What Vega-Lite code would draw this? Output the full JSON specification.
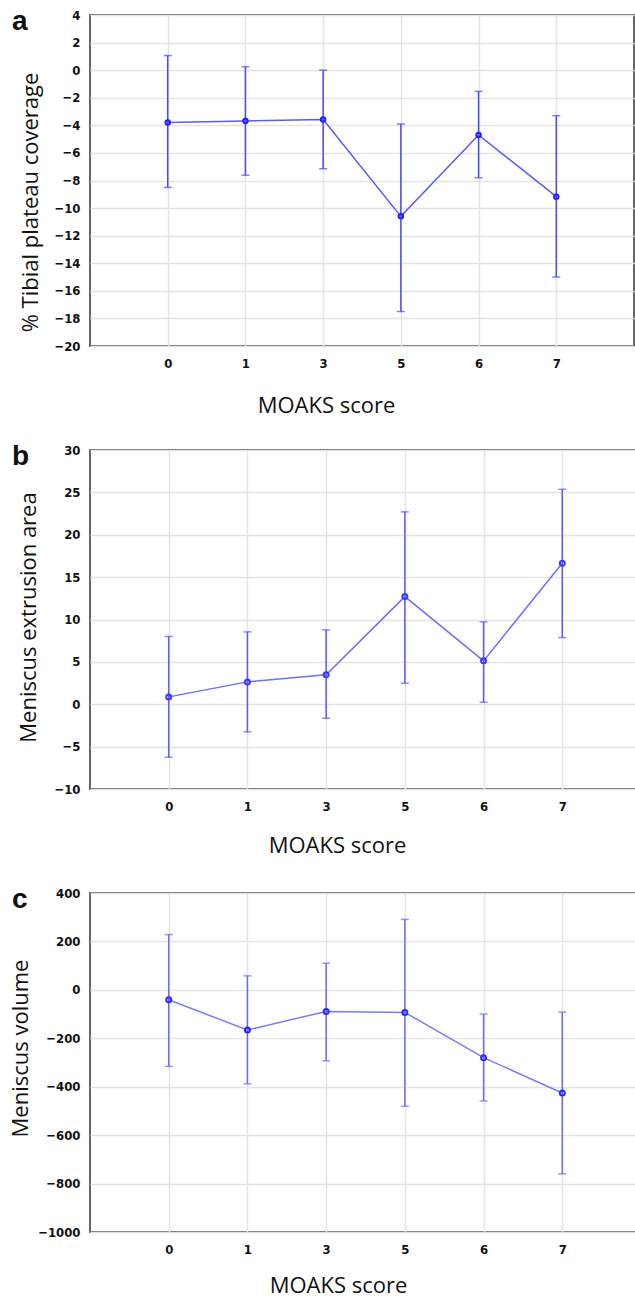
{
  "$schema": "https://vega.github.io/schema/vega-lite/v6.json",
  "background": "white",
  "padding": {"left": 8, "top": 7, "right": 0, "bottom": 0},
  "bounds": "flush",
  "spacing": 104,
  "datasets": {
    "a": [
      {"score": "0", "mean": -3.8, "lo": -8.5, "hi": 1.06},
      {"score": "1", "mean": -3.68, "lo": -7.62, "hi": 0.25},
      {"score": "3", "mean": -3.58, "lo": -7.15, "hi": 0.0},
      {"score": "5", "mean": -10.6, "lo": -17.5, "hi": -3.9},
      {"score": "6", "mean": -4.7, "lo": -7.8, "hi": -1.54},
      {"score": "7", "mean": -9.17, "lo": -15.0, "hi": -3.3}
    ],
    "b": [
      {"score": "0", "mean": 0.87, "lo": -6.25, "hi": 8.0},
      {"score": "1", "mean": 2.64, "lo": -3.26, "hi": 8.54},
      {"score": "3", "mean": 3.47, "lo": -1.65, "hi": 8.78},
      {"score": "5", "mean": 12.7, "lo": 2.48, "hi": 22.7},
      {"score": "6", "mean": 5.12, "lo": 0.24, "hi": 9.72},
      {"score": "7", "mean": 16.64, "lo": 7.87, "hi": 25.37}
    ],
    "c": [
      {"score": "0", "mean": -41, "lo": -316, "hi": 228},
      {"score": "1", "mean": -166, "lo": -388, "hi": 58},
      {"score": "3", "mean": -89, "lo": -293, "hi": 110},
      {"score": "5", "mean": -93, "lo": -481, "hi": 291},
      {"score": "6", "mean": -280, "lo": -459, "hi": -100},
      {"score": "7", "mean": -426, "lo": -760, "hi": -92}
    ]
  },
  "config": {
    "view": {"stroke": "#666666", "strokeWidth": 2},
    "axis": {
      "grid": true,
      "gridColor": "#e4e4e4",
      "gridWidth": 1.5,
      "domain": false,
      "ticks": false,
      "labelOverlap": false,
      "labelFont": "DejaVu Sans Condensed",
      "labelFontWeight": "bold",
      "labelFontSize": 13,
      "labelColor": "#111111",
      "titleFont": "Open Sans",
      "titleFontWeight": "normal",
      "titleFontSize": 22,
      "titleColor": "#111111"
    },
    "title": {"font": "Liberation Sans", "fontWeight": "bold", "fontSize": 28, "color": "#111111", "anchor": "start", "frame": "group"}
  },
  "vconcat": [
    {
      "width": 544, "height": 331,
      "title": {"text": "a", "dx": -78, "dy": 31},
      "data": {"name": "a"},
      "encoding": {
        "x": {"field": "score", "type": "ordinal", "sort": null, "scale": {"type": "point", "padding": 1},
              "axis": {"title": "MOAKS score", "labelAngle": 0, "labelPadding": 11, "titleX": 236, "titleY": 59, "titleBaseline": "middle", "titleAnchor": "middle"}}
      },
      "layer": [
        {"mark": {"type": "rule", "color": "#4848ff", "strokeWidth": 1.5},
         "encoding": {"y": {"field": "lo", "type": "quantitative", "scale": {"domain": [-20, 4], "nice": false, "zero": false},
                            "axis": {"title": "% Tibial plateau coverage", "format": "d", "tickCount": 30, "values": [-20,-18,-16,-14,-12,-10,-8,-6,-4,-2,0,2,4], "labelPadding": 10, "titleX": -60, "titleY": 187, "titleBaseline": "middle", "titleAnchor": "middle"}},
                      "y2": {"field": "hi"}}},
        {"mark": {"type": "tick", "color": "#4848ff", "thickness": 1.5, "size": 8, "orient": "horizontal"},
         "encoding": {"y": {"field": "lo", "type": "quantitative"}}},
        {"mark": {"type": "tick", "color": "#4848ff", "thickness": 1.5, "size": 8, "orient": "horizontal"},
         "encoding": {"y": {"field": "hi", "type": "quantitative"}}},
        {"mark": {"type": "line", "color": "#5a5aff", "strokeWidth": 1.5},
         "encoding": {"y": {"field": "mean", "type": "quantitative"}}},
        {"mark": {"type": "point", "color": "#2020ff", "filled": false, "strokeWidth": 2, "size": 20, "opacity": 1},
         "encoding": {"y": {"field": "mean", "type": "quantitative"}}}
      ]
    },
    {
      "width": 551, "height": 339,
      "title": {"text": "b", "dx": -78, "dy": 31},
      "data": {"name": "b"},
      "encoding": {
        "x": {"field": "score", "type": "ordinal", "sort": null, "scale": {"type": "point", "padding": 1},
              "axis": {"title": "MOAKS score", "labelAngle": 0, "labelPadding": 11, "titleX": 247, "titleY": 56, "titleBaseline": "middle", "titleAnchor": "middle"}}
      },
      "layer": [
        {"mark": {"type": "rule", "color": "#5a5aff", "strokeWidth": 1.5},
         "encoding": {"y": {"field": "lo", "type": "quantitative", "scale": {"domain": [-10, 30], "nice": false, "zero": false},
                            "axis": {"title": "Meniscus extrusion area", "format": "d", "tickCount": 30, "values": [-10,-5,0,5,10,15,20,25,30], "labelPadding": 10, "titleX": -62, "titleY": 167, "titleBaseline": "middle", "titleAnchor": "middle"}},
                      "y2": {"field": "hi"}}},
        {"mark": {"type": "tick", "color": "#5a5aff", "thickness": 1.5, "size": 8, "orient": "horizontal"},
         "encoding": {"y": {"field": "lo", "type": "quantitative"}}},
        {"mark": {"type": "tick", "color": "#5a5aff", "thickness": 1.5, "size": 8, "orient": "horizontal"},
         "encoding": {"y": {"field": "hi", "type": "quantitative"}}},
        {"mark": {"type": "line", "color": "#6e6eff", "strokeWidth": 1.5},
         "encoding": {"y": {"field": "mean", "type": "quantitative"}}},
        {"mark": {"type": "point", "color": "#3a3aff", "filled": false, "strokeWidth": 2, "size": 25, "opacity": 1},
         "encoding": {"y": {"field": "mean", "type": "quantitative"}}}
      ]
    },
    {
      "width": 551, "height": 339,
      "title": {"text": "c", "dx": -78, "dy": 31},
      "data": {"name": "c"},
      "encoding": {
        "x": {"field": "score", "type": "ordinal", "sort": null, "scale": {"type": "point", "padding": 1},
              "axis": {"title": "MOAKS score", "labelAngle": 0, "labelPadding": 11, "titleX": 248, "titleY": 53, "titleBaseline": "middle", "titleAnchor": "middle"}}
      },
      "layer": [
        {"mark": {"type": "rule", "color": "#6a6aff", "strokeWidth": 1.5},
         "encoding": {"y": {"field": "lo", "type": "quantitative", "scale": {"domain": [-1000, 400], "nice": false, "zero": false},
                            "axis": {"title": "Meniscus volume", "format": "d", "tickCount": 30, "values": [-1000,-800,-600,-400,-200,0,200,400], "labelPadding": 10, "titleX": -70, "titleY": 155, "titleBaseline": "middle", "titleAnchor": "middle"}},
                      "y2": {"field": "hi"}}},
        {"mark": {"type": "tick", "color": "#6a6aff", "thickness": 1.5, "size": 8, "orient": "horizontal"},
         "encoding": {"y": {"field": "lo", "type": "quantitative"}}},
        {"mark": {"type": "tick", "color": "#6a6aff", "thickness": 1.5, "size": 8, "orient": "horizontal"},
         "encoding": {"y": {"field": "hi", "type": "quantitative"}}},
        {"mark": {"type": "line", "color": "#7a7aff", "strokeWidth": 1.5},
         "encoding": {"y": {"field": "mean", "type": "quantitative"}}},
        {"mark": {"type": "point", "color": "#2a2aff", "filled": false, "strokeWidth": 2, "size": 25, "opacity": 1},
         "encoding": {"y": {"field": "mean", "type": "quantitative"}}}
      ]
    }
  ]
}
